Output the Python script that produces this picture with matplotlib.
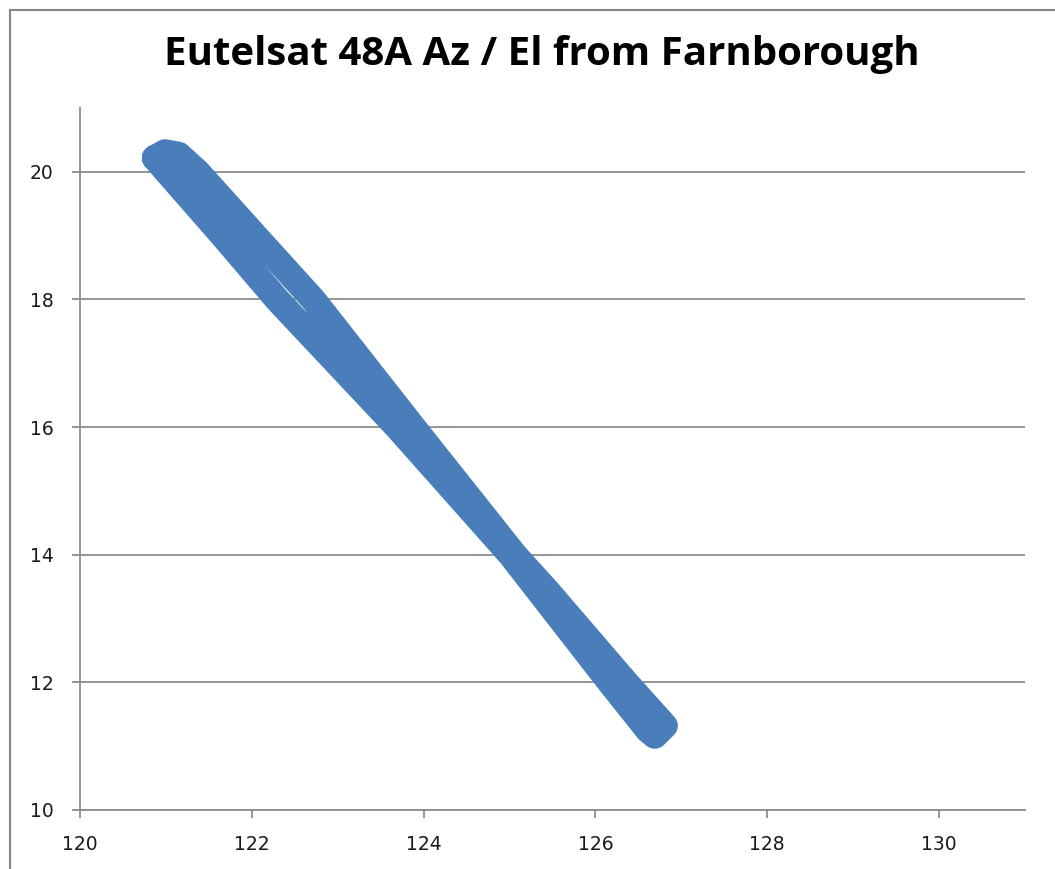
import matplotlib.pyplot as plt
from matplotlib.patches import Rectangle

# azimuth / elevation track of the satellite (degrees)
az = [120.87, 121.01, 121.66, 122.30, 123.69, 125.01, 126.16, 126.61, 126.69,
      126.81, 126.35, 125.45, 125.06, 123.88, 122.72, 122.04, 121.37, 121.15, 120.99, 120.87]
el = [20.22, 20.00, 19.00, 17.99, 16.00, 14.00, 12.01, 11.25, 11.16,
      11.32, 12.01, 13.42, 14.00, 16.00, 17.99, 19.00, 20.00, 20.27, 20.31, 20.22]

xticks = [120, 122, 124, 126, 128, 130]
yticks = [10, 12, 14, 16, 18, 20]

fig = plt.figure(figsize=(10.55, 8.69), dpi=100)
ax = fig.add_axes([0.0758, 0.0679, 0.8958, 0.8078])

# outer chart border like the spreadsheet frame
fig.patches.append(Rectangle((10 / 1055, -0.1), 1.2, 1 - 10 / 869 + 0.1,
                             transform=fig.transFigure, fill=False,
                             edgecolor='#868686', linewidth=1.5))

ax.plot(az, el, color='#4A7EBB', linewidth=18.5, solid_joinstyle='round',
        solid_capstyle='round')

ax.set_xlim(120, 131)
ax.set_ylim(10, 21)
ax.set_xticks(xticks)
ax.set_yticks(yticks)
ax.yaxis.grid(True, color='#8c8c8c', linewidth=1.3)
ax.set_axisbelow(True)

for s in ['top', 'right']:
    ax.spines[s].set_visible(False)
for s in ['left', 'bottom']:
    ax.spines[s].set_color('#8c8c8c')
    ax.spines[s].set_linewidth(1.3)
ax.tick_params(axis='both', colors='#8c8c8c', length=6, width=1.3,
               labelcolor='#1a1a1a', labelsize=13.5)
ax.tick_params(axis='y', pad=13)
ax.tick_params(axis='x', pad=12)

fig.text(0.514, 1 - 65 / 869, 'Eutelsat 48A Az / El from Farnborough',
         ha='center', va='baseline', fontsize=29, fontweight='bold',
         family='Open Sans')

plt.savefig('out.png', dpi=100)
